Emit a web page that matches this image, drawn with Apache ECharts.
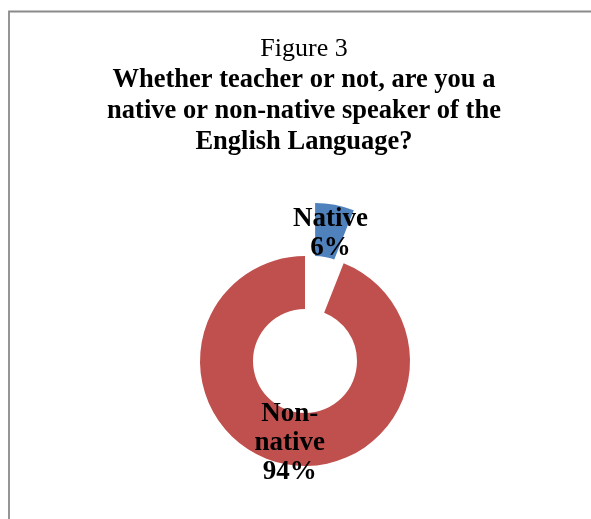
<!DOCTYPE html>
<html>
<head>
<meta charset="utf-8">
<script src="https://cdn.jsdelivr.net/npm/echarts@6/dist/echarts.min.js"></script>
<style>
  html, body { margin: 0; padding: 0; background: #fff; }
  #chart { width: 591px; height: 519px; }
</style>
</head>
<body>
<div id="chart"></div>
<script>
const categories = ['Native', 'Non-\nnative']
const shares = [6, 94]
const colors = ['#4F81BD', '#C0504D']
const heading = 'Figure 3'
const questionLines = [
  'Whether teacher or not, are you a',
  'native or non-native speaker of the',
  'English Language?',
]

const chart = echarts.init(document.getElementById('chart'))

const serif = '"Liberation Serif", "Times New Roman", serif'

// title lines as centred graphic texts (centre of the plot is a bit right of canvas centre)
const titleX = 304
const titleTexts = [
  {
    type: 'text',
    x: titleX,
    y: 49,
    style: {
      text: heading,
      font: '26px ' + serif,
      fill: '#000',
      textAlign: 'center',
      textVerticalAlign: 'middle',
    },
  },
].concat(
  questionLines.map((line, i) => ({
    type: 'text',
    x: titleX,
    y: 80 + i * 31,
    style: {
      text: line,
      font: 'bold 26.5px ' + serif,
      fill: '#000',
      textAlign: 'center',
      textVerticalAlign: 'middle',
    },
  }))
)

// an empty spacer line on top pushes each centred label down a little
const gapNames = ['gapBig', 'gapSmall']

const option = {
  backgroundColor: '#fff',
  animation: false,
  graphic: [
    {
      type: 'polyline',
      shape: { points: [[9, 600], [9, 11.5], [700, 11.5]] },
      style: { stroke: '#8a8a8a', lineWidth: 1.8, fill: null },
    },
  ].concat(titleTexts),
  series: [
    {
      type: 'pie',
      center: [305, 361],
      radius: [52, 105],
      startAngle: 90,
      clockwise: true,
      selectedMode: 'single',
      selectedOffset: 54,
      emphasis: { disabled: true },
      label: {
        show: true,
        position: 'inside',
        formatter: (p) => {
          const lines = (p.name + '\n' + p.value + '%').split('\n')
          return '{' + gapNames[p.dataIndex] + '|}\n' + lines.map((l) => '{b|' + l + '}').join('\n')
        },
        color: '#000',
        rich: {
          gapBig: { lineHeight: 12, fontSize: 1 },
          gapSmall: { lineHeight: 4, fontSize: 1 },
          b: {
            fontFamily: serif,
            fontSize: 27,
            fontWeight: 'bold',
            color: '#000',
            lineHeight: 29,
          },
        },
      },
      labelLine: { show: false },
      data: categories.map((name, i) => ({
        name,
        value: shares[i],
        selected: i === 0,
        itemStyle: { color: colors[i] },
      })),
    },
  ],
}

chart.setOption(option)
</script>
</body>
</html>
